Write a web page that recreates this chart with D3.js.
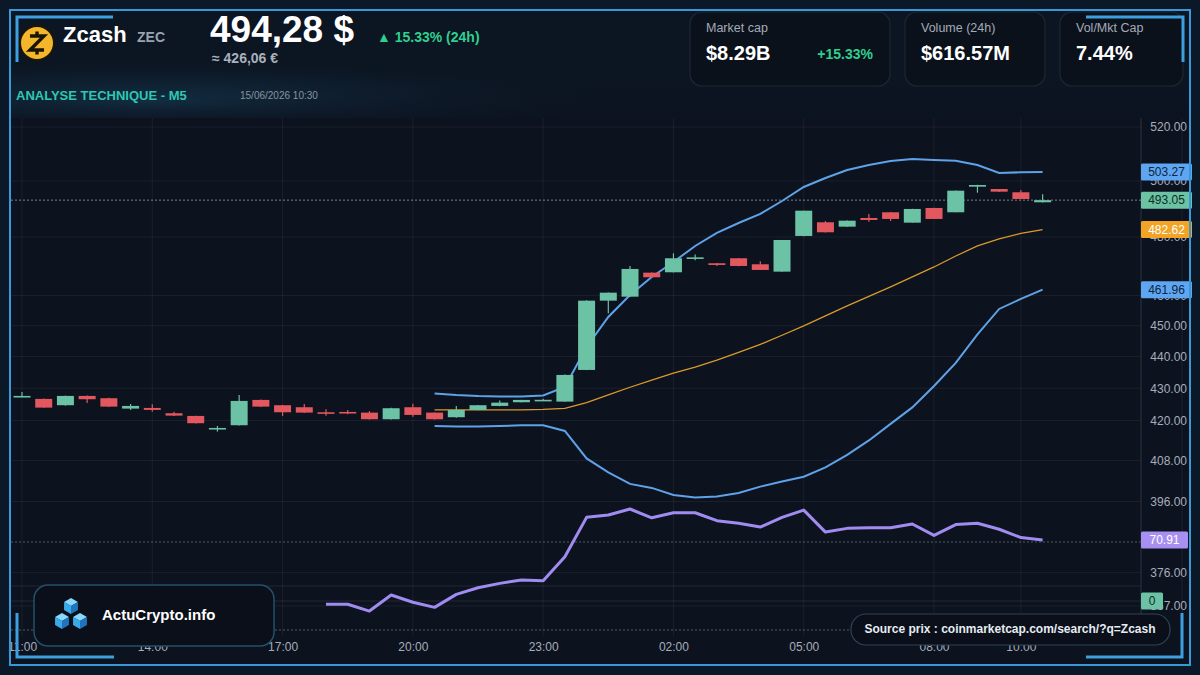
<!DOCTYPE html>
<html>
<head>
<meta charset="utf-8">
<script src="https://cdn.jsdelivr.net/npm/d3@7"></script>
<style>
  html, body { margin: 0; padding: 0; background: #0a1827; }
  svg { display: block; font-family: "Liberation Sans", Arial, sans-serif; }
</style>
</head>
<body>
<div id="chart"></div>
<script>
// --- data (30 min candles, 11:00 -> 10:30) ---
const opens  = [427.30, 426.67, 424.72, 427.60, 426.89, 423.67, 423.88, 422.25, 421.42, 417.55, 418.58, 426.36, 424.72, 424.10, 422.55, 422.65, 422.44, 420.41, 424.10, 422.44, 421.03, 423.27, 424.50, 425.64, 426.36, 425.83, 435.76, 458.29, 459.62, 467.72, 467.85, 472.85, 470.93, 472.64, 470.58, 468.06, 480.37, 485.18, 483.63, 486.70, 488.72, 485.04, 490.25, 488.72, 497.91, 497.07, 495.88, 492.29];
const closes = [427.60, 423.98, 427.60, 426.57, 424.29, 424.50, 423.27, 421.52, 419.19, 417.75, 426.05, 424.29, 422.55, 422.44, 422.50, 422.60, 420.41, 423.79, 421.73, 420.41, 423.27, 424.72, 425.52, 426.36, 426.40, 434.18, 458.29, 460.96, 468.98, 466.15, 472.64, 472.95, 470.34, 470.00, 468.64, 478.97, 489.29, 481.66, 485.74, 485.99, 486.35, 489.90, 486.35, 496.46, 498.52, 496.10, 493.47, 493.05];
const highs  = [428.80, 426.80, 427.70, 427.70, 427.00, 425.10, 424.98, 422.70, 421.50, 418.36, 427.91, 426.50, 424.80, 425.10, 423.50, 423.27, 422.90, 423.90, 425.20, 422.50, 424.50, 424.80, 426.15, 426.40, 426.70, 434.30, 458.40, 461.00, 470.00, 467.80, 474.36, 473.90, 471.00, 472.70, 471.60, 479.00, 489.30, 485.60, 485.80, 488.12, 488.80, 490.00, 490.30, 496.50, 498.60, 497.10, 496.75, 495.16];
const lows   = [427.20, 423.90, 424.60, 425.42, 424.20, 423.27, 422.70, 421.40, 419.10, 416.64, 418.50, 424.20, 421.42, 422.30, 421.50, 421.97, 420.30, 420.30, 421.20, 420.30, 420.90, 423.20, 424.40, 425.60, 426.10, 425.80, 435.70, 454.11, 459.50, 466.10, 467.80, 472.00, 470.00, 469.90, 468.60, 468.00, 480.30, 481.60, 483.60, 485.39, 485.60, 485.00, 486.30, 488.70, 495.74, 496.00, 493.40, 492.20];

// Bollinger bands start at candle 19
const bandStart = 19;
const bbUpper = [428.38, 427.91, 427.60, 427.44, 427.44, 427.76, 430.41, 443.11, 452.89, 460.19, 466.26, 471.37, 476.89, 481.42, 484.93, 488.12, 492.75, 497.80, 501.07, 503.99, 505.83, 507.30, 508.04, 507.67, 507.40, 505.83, 502.89, 503.15, 503.27];
const bbMid   = [423.27, 423.27, 423.27, 423.27, 423.27, 423.42, 423.73, 425.52, 427.91, 430.31, 432.51, 434.72, 436.62, 438.85, 441.34, 443.92, 446.89, 449.93, 453.22, 456.53, 459.69, 462.88, 466.26, 469.66, 473.43, 476.89, 479.39, 481.24, 482.62];
const bbLower = [418.36, 418.18, 418.18, 418.36, 418.54, 418.54, 416.85, 408.60, 404.46, 401.09, 399.92, 397.89, 397.11, 397.40, 398.47, 400.30, 401.82, 403.20, 405.93, 409.64, 413.98, 418.98, 424.04, 430.72, 437.99, 447.16, 455.53, 458.86, 461.96];

// RSI starts at candle 14
const rsiStart = 14;
const rsi = [41.7, 41.7, 38.6, 45.9, 42.6, 40.3, 46.2, 49.2, 51.2, 52.7, 52.4, 63.3, 81.2, 82.3, 85.0, 81.0, 83.3, 83.3, 79.7, 78.5, 76.8, 81.2, 84.5, 74.5, 76.2, 76.5, 76.5, 78.2, 73.0, 77.9, 78.5, 75.8, 72.0, 70.91];
const zeroLevel = 0;

const priceTicks = [520, 500, 480, 460, 450, 440, 430, 420, 408, 396, 376, 367];
const timeTicks = ["11:00", "14:00", "17:00", "20:00", "23:00", "02:00", "05:00", "08:00", "10:00"];

const cards = [
  { label: "Market cap", value: "$8.29B", change: "+15.33%" },
  { label: "Volume (24h)", value: "$616.57M" },
  { label: "Vol/Mkt Cap", value: "7.44%" }
];

// --- setup ---
const W = 1200, H = 675;
const plotTop = 118, plotBottom = 636, plotLeft = 11, plotRight = 1141;
const green = "#6cc2a5", red = "#e3575e";
const axisColor = "#a6aebb";

const svg = d3.select("#chart").append("svg")
  .attr("width", W).attr("height", H);
const defs = svg.append("defs");

const glow = defs.append("radialGradient").attr("id", "glow")
  .attr("cx", 0.12).attr("cy", 0.85).attr("r", 0.42);
glow.append("stop").attr("offset", "0%").attr("stop-color", "#15405a").attr("stop-opacity", 0.85);
glow.append("stop").attr("offset", "100%").attr("stop-color", "#0c1522").attr("stop-opacity", 0);

const fade = defs.append("linearGradient").attr("id", "fade")
  .attr("x1", 0).attr("y1", 0).attr("x2", 0).attr("y2", 1);
fade.append("stop").attr("offset", "0%").attr("stop-color", "#0d121f").attr("stop-opacity", 0);
fade.append("stop").attr("offset", "100%").attr("stop-color", "#0d121f").attr("stop-opacity", 0.6);

defs.append("clipPath").attr("id", "plotClip").append("rect")
  .attr("x", plotLeft).attr("y", plotTop)
  .attr("width", plotRight - plotLeft).attr("height", plotBottom - plotTop);

// scales
const startTime = new Date(2026, 5, 14, 11, 0);
const candleTimes = opens.map((_, i) => d3.timeMinute.offset(startTime, i * 30));
const tickDates = timeTicks.map(t => {
  const h = +t.slice(0, 2);
  return new Date(2026, 5, h >= 11 ? 14 : 15, h, 0);
});
const x = d3.scaleTime()
  .domain([startTime, d3.timeHour.offset(startTime, 24)])
  .range([22, 22 + 24 * 43.43]);
const y = d3.scaleLog().domain([367, 520]).range([606, 127]);
const yRsi = d3.scaleLinear().domain([30, 70]).range([630, 542]);
const yZero = d3.scaleLinear().domain([-1, 1]).range([630, 572]);

// backgrounds
svg.append("rect").attr("width", W).attr("height", H).attr("fill", "#0a1827");
svg.append("rect").attr("x", 10).attr("y", 10).attr("width", 1180).attr("height", 655).attr("fill", "#0d121f");
svg.append("rect").attr("x", 10).attr("y", 10).attr("width", 1180).attr("height", plotTop - 10).attr("fill", "#0c1522");
svg.append("rect").attr("x", 10).attr("y", 10).attr("width", 1180).attr("height", plotTop - 10).attr("fill", "url(#glow)");
svg.append("rect").attr("x", 10).attr("y", 80).attr("width", 1180).attr("height", plotTop - 80).attr("fill", "url(#fade)");

// grid
const grid = svg.append("g").attr("id", "grid");
grid.selectAll("line.h").data(priceTicks).enter().append("line")
  .attr("x1", plotLeft).attr("x2", plotRight)
  .attr("y1", d => y(d)).attr("y2", d => y(d))
  .style("stroke", "#ffffff").style("stroke-opacity", 0.06);
grid.selectAll("line.v").data(tickDates).enter().append("line")
  .attr("x1", d => x(d)).attr("x2", d => x(d))
  .attr("y1", plotTop).attr("y2", plotBottom)
  .style("stroke", "#ffffff").style("stroke-opacity", 0.06);
[50, zeroLevel].forEach((v, i) => {
  const yy = i === 0 ? yRsi(v) : yZero(v);
  grid.append("line").attr("x1", plotLeft).attr("x2", plotRight)
    .attr("y1", yy).attr("y2", yy)
    .style("stroke", "#ffffff").style("stroke-opacity", 0.09);
});
[70, 30].forEach(v => {
  grid.append("line").attr("x1", plotLeft).attr("x2", plotRight)
    .attr("y1", yRsi(v)).attr("y2", yRsi(v))
    .style("stroke", "#8d96a4").style("stroke-opacity", 0.55)
    .style("stroke-dasharray", "2,2");
});

// axis separator
svg.append("line").attr("x1", plotRight).attr("x2", plotRight).attr("y1", plotTop).attr("y2", plotBottom)
  .style("stroke", "#2a3342");
svg.append("line").attr("x1", 1182).attr("x2", 1182).attr("y1", plotTop).attr("y2", plotBottom)
  .style("stroke", "#1b2230");

const plot = svg.append("g").attr("clip-path", "url(#plotClip)");

// current price line
plot.append("line")
  .attr("x1", plotLeft).attr("x2", plotRight)
  .attr("y1", y(closes[closes.length - 1])).attr("y2", y(closes[closes.length - 1]))
  .style("stroke", "#aab3bf").style("stroke-opacity", 0.7).style("stroke-dasharray", "2,2");

// bands
const bandLine = d3.line()
  .x((d, i) => x(candleTimes[bandStart + i]))
  .y(d => y(d));
plot.append("path").datum(bbUpper).attr("d", bandLine)
  .style("fill", "none").style("stroke", "#5ea2e8").style("stroke-width", 2);
plot.append("path").datum(bbLower).attr("d", bandLine)
  .style("fill", "none").style("stroke", "#5ea2e8").style("stroke-width", 2);
plot.append("path").datum(bbMid).attr("d", bandLine)
  .style("fill", "none").style("stroke", "#d99a2b").style("stroke-width", 1.3);

// candles
const candles = plot.append("g").attr("id", "candles")
  .selectAll("g").data(opens.map((o, i) => ({ t: candleTimes[i], o, h: highs[i], l: lows[i], c: closes[i] })))
  .enter().append("g");
const bw = 17;
candles.append("line")
  .attr("x1", d => x(d.t)).attr("x2", d => x(d.t))
  .attr("y1", d => y(d.h)).attr("y2", d => y(d.l))
  .style("stroke", d => d.c >= d.o ? green : red).style("stroke-width", 1.2);
candles.append("rect")
  .attr("x", d => x(d.t) - bw / 2).attr("width", bw)
  .attr("y", d => y(Math.max(d.o, d.c)))
  .attr("height", d => Math.max(1.6, Math.abs(y(d.o) - y(d.c))))
  .style("fill", d => d.c >= d.o ? green : red);

// RSI
const rsiLine = d3.line()
  .x((d, i) => x(candleTimes[rsiStart + i]))
  .y(d => yRsi(d));
plot.append("path").datum(rsi).attr("d", rsiLine)
  .style("fill", "none").style("stroke", "#a08cf0").style("stroke-width", 3)
  .style("stroke-linejoin", "round");

// right axis
const yAxis = svg.append("g").attr("transform", "translate(1190,0)")
  .call(d3.axisLeft(y).tickValues(priceTicks).tickFormat(d3.format(".2f")).tickSize(0).tickPadding(3));
yAxis.select(".domain").remove();
yAxis.selectAll("text").style("fill", axisColor).style("font-size", "12px")
  .style("font-family", "Liberation Sans, Arial, sans-serif");

// x axis
const xAxis = svg.append("g").attr("transform", `translate(0,${plotBottom})`)
  .call(d3.axisBottom(x).tickValues(tickDates).tickFormat((d, i) => timeTicks[i]).tickSize(0).tickPadding(6));
xAxis.select(".domain").remove();
xAxis.selectAll("text").style("fill", axisColor).style("font-size", "12px")
  .style("font-family", "Liberation Sans, Arial, sans-serif");

// value badges
const badges = [
  { v: bbUpper[bbUpper.length - 1], yy: y(bbUpper[bbUpper.length - 1]), bg: "#5ea6f2", fg: "#0c2440", w: 51 },
  { v: closes[closes.length - 1], yy: y(closes[closes.length - 1]), bg: "#6cc2a5", fg: "#0b2e22", w: 51 },
  { v: bbMid[bbMid.length - 1], yy: y(bbMid[bbMid.length - 1]), bg: "#f3a425", fg: "#ffffff", w: 51 },
  { v: bbLower[bbLower.length - 1], yy: y(bbLower[bbLower.length - 1]), bg: "#5ea6f2", fg: "#0c2440", w: 51 },
  { v: rsi[rsi.length - 1], yy: yRsi(rsi[rsi.length - 1]), bg: "#a88ff2", fg: "#ffffff", w: 47 },
  { v: zeroLevel, yy: yZero(zeroLevel), bg: "#6cc2a5", fg: "#0b2e22", w: 22, txt: "0" }
];
const bg = svg.append("g").selectAll("g").data(badges).enter().append("g");
bg.append("rect").attr("x", 1141).attr("y", d => d.yy - 8.5).attr("width", d => d.w).attr("height", 17)
  .attr("rx", 1.5).style("fill", d => d.bg);
bg.append("text").attr("x", d => 1141 + d.w / 2).attr("y", d => d.yy).attr("dy", "0.36em")
  .attr("text-anchor", "middle").style("font-size", "12px").style("fill", d => d.fg)
  .text(d => d.txt || d.v.toFixed(2));

// --- header ---
const head = svg.append("g");
head.append("circle").attr("cx", 37).attr("cy", 43).attr("r", 17)
  .style("fill", "#f4b62a").style("stroke", "#1c1608").style("stroke-width", 2);
head.append("path").attr("d", "M30,36 H44 L30,50 H44 M37,31.5 V36 M37,50 V54.5")
  .style("fill", "none").style("stroke", "#1a1405").style("stroke-width", 3.4);
head.append("text").attr("x", 63).attr("y", 42).text("Zcash")
  .style("font-size", "22px").style("font-weight", "bold").style("fill", "#ffffff");
head.append("text").attr("x", 137).attr("y", 42).text("ZEC")
  .style("font-size", "14px").style("font-weight", "bold").style("fill", "#9aa3b0");
head.append("text").attr("x", 210).attr("y", 42).text("494,28 $")
  .style("font-size", "37px").style("font-weight", "bold").style("fill", "#ffffff");
head.append("text").attr("x", 212).attr("y", 63).text("≈ 426,06 €")
  .style("font-size", "14px").style("font-weight", "bold").style("fill", "#a9b1bd");
head.append("text").attr("x", 377).attr("y", 42).text("▲ 15.33% (24h)")
  .style("font-size", "14px").style("font-weight", "bold").style("fill", "#2fcf8f");
head.append("text").attr("x", 16).attr("y", 100).text("ANALYSE TECHNIQUE - M5")
  .style("font-size", "13px").style("font-weight", "bold").style("fill", "#2ec7b2");
head.append("text").attr("x", 240).attr("y", 99).text("15/06/2026 10:30")
  .style("font-size", "10px").style("fill", "#8a93a0");

// stat cards
const cardX = [690, 905, 1060], cardW = [200, 140, 123];
const card = head.selectAll("g.card").data(cards).enter().append("g")
  .attr("transform", (d, i) => `translate(${cardX[i]},12)`);
card.append("rect").attr("width", (d, i) => cardW[i]).attr("height", 74).attr("rx", 12)
  .style("fill", "#0b111b").style("stroke", "#1d2735").style("stroke-width", 1.2);
card.append("text").attr("x", 16).attr("y", 20).text(d => d.label)
  .style("font-size", "12.5px").style("fill", "#a3abb8");
card.append("text").attr("x", 16).attr("y", 48).text(d => d.value)
  .style("font-size", "20px").style("font-weight", "bold").style("fill", "#ffffff");
card.filter(d => d.change).append("text").attr("x", 183).attr("y", 47).attr("text-anchor", "end")
  .text(d => d.change)
  .style("font-size", "14px").style("font-weight", "bold").style("fill", "#2fcf8f");

// --- logo box ---
const logo = svg.append("g");
logo.append("rect").attr("x", 34).attr("y", 585).attr("width", 240).attr("height", 61).attr("rx", 14)
  .style("fill", "#0a0f19").style("stroke", "#24506b").style("stroke-width", 1.5);
function cube(g, cx, cy, s) {
  const k = s * 0.87;
  g.append("polygon").attr("points", [[cx, cy - s], [cx + k, cy - s / 2], [cx, cy], [cx - k, cy - s / 2]].join(" "))
    .style("fill", "#86d8ff");
  g.append("polygon").attr("points", [[cx - k, cy - s / 2], [cx, cy], [cx, cy + s], [cx - k, cy + s / 2]].join(" "))
    .style("fill", "#3aa9ea");
  g.append("polygon").attr("points", [[cx + k, cy - s / 2], [cx, cy], [cx, cy + s], [cx + k, cy + s / 2]].join(" "))
    .style("fill", "#1f74bd");
}
cube(logo, 71, 606, 8);
cube(logo, 62, 621, 8);
cube(logo, 80, 621, 8);
logo.append("text").attr("x", 102).attr("y", 620).text("ActuCrypto.info")
  .style("font-size", "15px").style("font-weight", "bold").style("fill", "#ffffff");

// source box
const src = svg.append("g");
src.append("rect").attr("x", 851).attr("y", 614).attr("width", 319).attr("height", 31).attr("rx", 15)
  .style("fill", "#0a0f19").style("stroke", "#2c4558").style("stroke-width", 1.2);
src.append("text").attr("x", 1010).attr("y", 633).attr("text-anchor", "middle")
  .text("Source prix : coinmarketcap.com/search/?q=Zcash")
  .style("font-size", "12px").style("font-weight", "bold").style("fill", "#e6ecf3");

// --- frame & corner brackets ---
svg.append("rect").attr("x", 10).attr("y", 10).attr("width", 1180).attr("height", 655)
  .style("fill", "none").style("stroke", "#3a98d8").style("stroke-width", 2);
svg.append("path")
  .attr("d", "M17,62 V17 H113 M1086,17 H1183 V62 M17,613 V657 H114 M1086,657 H1182 V613")
  .style("fill", "none").style("stroke", "#3d9fe0").style("stroke-width", 3);
</script>
</body>
</html>
